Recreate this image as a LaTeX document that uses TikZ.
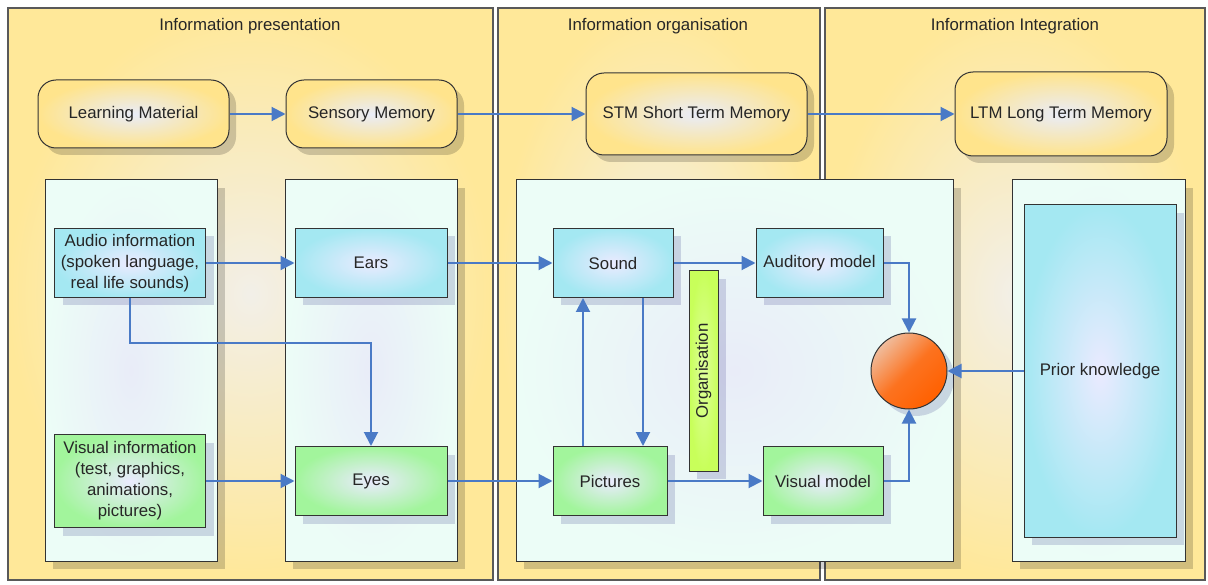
\documentclass[tikz,border=0pt]{standalone}
\usepackage{fontspec}
\setmainfont{Liberation Sans}
\usetikzlibrary{arrows.meta, shadows}
\definecolor{lanefill}{HTML}{FFE899}
\definecolor{lanemid}{HTML}{F2EFE8}
\definecolor{panelfill}{HTML}{ECFDF7}
\definecolor{panelmid}{HTML}{E9ECF8}
\definecolor{memfill}{HTML}{FFE48C}
\definecolor{audiocol}{HTML}{A4E8F2}
\definecolor{visualcol}{HTML}{A2F59C}
\definecolor{orgcol}{HTML}{C8FF5A}
\definecolor{ballcol}{HTML}{FF6000}
\definecolor{ballhi}{HTML}{F0BC9C}
\definecolor{linkblue}{HTML}{4A7AC6}

\begin{document}
\begin{tikzpicture}[x=1pt, y=-1pt, font=\fontsize{16.8}{21}\selectfont,
      lane/.style={draw=black!65, line width=1.3pt, shading=radial, inner color=lanemid, outer color=lanefill, inner sep=0pt},
      title/.style={text=black!85},
      mem/.style={draw=black!80, line width=1pt, rounded corners=18pt, shading=radial, inner color=panelmid, outer color=memfill, inner sep=0pt, text=black!85,
        drop shadow={shadow xshift=7pt, shadow yshift=-7pt, fill=black, opacity=0.18}},
      panel/.style={draw=black!80, line width=1pt, shading=radial, inner color=panelmid, outer color=panelfill, inner sep=0pt,
        drop shadow={shadow xshift=8pt, shadow yshift=-8pt, fill=black, opacity=0.18}},
      box/.style={draw=black!80, line width=1pt, shading=radial, inner color=white!92!blue, inner sep=0pt, align=center, text=black!85,
        drop shadow={shadow xshift=8pt, shadow yshift=-8pt, fill=blue!40!black, opacity=0.15}},
      audio/.style={box, outer color=audiocol},
      visual/.style={box, outer color=visualcol},
      arr/.style={draw=linkblue, line width=2pt, -{Triangle[length=14pt, width=14pt]}}]
    \useasboundingbox (0,0) rectangle (1208,585);
    % lanes
    \node[lane, minimum width=485pt, minimum height=572pt] (pres) at (250.5,294) {};
    \node[lane, minimum width=322pt, minimum height=572pt] (orga) at (659,294) {};
    \node[lane, minimum width=380pt, minimum height=572pt] (inte) at (1015,294) {};
    \node[title] (presT) at (250,26) {Information presentation};
    \node[title] (orgaT) at (658,26) {Information organisation};
    \node[title] (inteT) at (1015,26) {Information Integration};
    % memory stores
    \node[mem, minimum width=191pt, minimum height=68pt] (lm) at (133.5,114) {Learning Material};
    \node[mem, minimum width=171pt, minimum height=68pt] (sm) at (371.5,114) {Sensory Memory};
    \node[mem, minimum width=221pt, minimum height=82pt] (stm) at (696.5,114) {STM Short Term Memory};
    \node[mem, minimum width=212pt, minimum height=84pt] (ltm) at (1061,114) {LTM Long Term Memory};
    % panels
    \node[panel, minimum width=172pt, minimum height=381pt] (p1) at (131,370.5) {};
    \node[panel, minimum width=172pt, minimum height=381pt] (p2) at (371,370.5) {};
    \node[panel, minimum width=437pt, minimum height=381pt] (p3) at (734.5,370.5) {};
    \node[panel, minimum width=173pt, minimum height=381pt] (p4) at (1098.5,370.5) {};
    % boxes
    \node[audio, minimum width=151pt, minimum height=69pt] (ainfo) at (130,263) {Audio information\\(spoken language,\\real life sounds)};
    \node[visual, minimum width=151pt, minimum height=93pt] (vinfo) at (130,481) {Visual information\\(test, graphics,\\animations,\\pictures)};
    \node[audio, minimum width=152pt, minimum height=69pt] (ears) at (371,263) {Ears};
    \node[visual, minimum width=152pt, minimum height=69pt] (eyes) at (371,481) {Eyes};
    \node[audio, minimum width=120pt, minimum height=69pt] (sound) at (613,263) {Sound};
    \node[visual, minimum width=114pt, minimum height=69pt] (pict) at (610,481) {Pictures};
    \node[audio, minimum width=127pt, minimum height=69pt] (amodel) at (819.5,263) {Auditory model};
    \node[visual, minimum width=120pt, minimum height=69pt] (vmodel) at (823,481) {Visual model};
    \node[box, outer color=orgcol, inner color=orgcol!60!white, rotate=90, minimum width=200pt, minimum height=29pt] (org) at (703.5,371) {Organisation};
    \node[draw=black!80, line width=1pt, circle, minimum size=76pt, shading=axis, top color=ballhi, bottom color=ballcol, middle color=ballcol!80!ballhi, shading angle=45,
      drop shadow={shadow xshift=7pt, shadow yshift=-7pt, fill=blue!40!black, opacity=0.15}] (merge) at (909,371) {};
    \node[audio, minimum width=152pt, minimum height=332pt] (prior) at (1100,371) {Prior knowledge};
    % links
    \draw[arr] (lm) -- (sm);
    \draw[arr] (sm) -- (stm);
    \draw[arr] (stm) -- (ltm);
    \draw[arr] (ainfo) -- (ears);
    \draw[arr] (vinfo) -- (eyes);
    \draw[arr] (ainfo.south) -- ++(0,45) -| (eyes.north);
    \draw[arr] (ears) -- (sound);
    \draw[arr] (eyes) -- (pict);
    \draw[arr] (sound) -- (amodel);
    \draw[arr] (pict) -- (vmodel);
    \draw[arr] ([xshift=-27pt]pict.north) -- ([xshift=-27pt]pict.north |- sound.south);
    \draw[arr] ([xshift=30pt]sound.south) -- ([xshift=30pt]sound.south |- pict.north);
    \draw[arr] (amodel) -| (merge);
    \draw[arr] (vmodel) -| (merge);
    \draw[arr] (prior) -- (merge);
\end{tikzpicture}
\end{document}
